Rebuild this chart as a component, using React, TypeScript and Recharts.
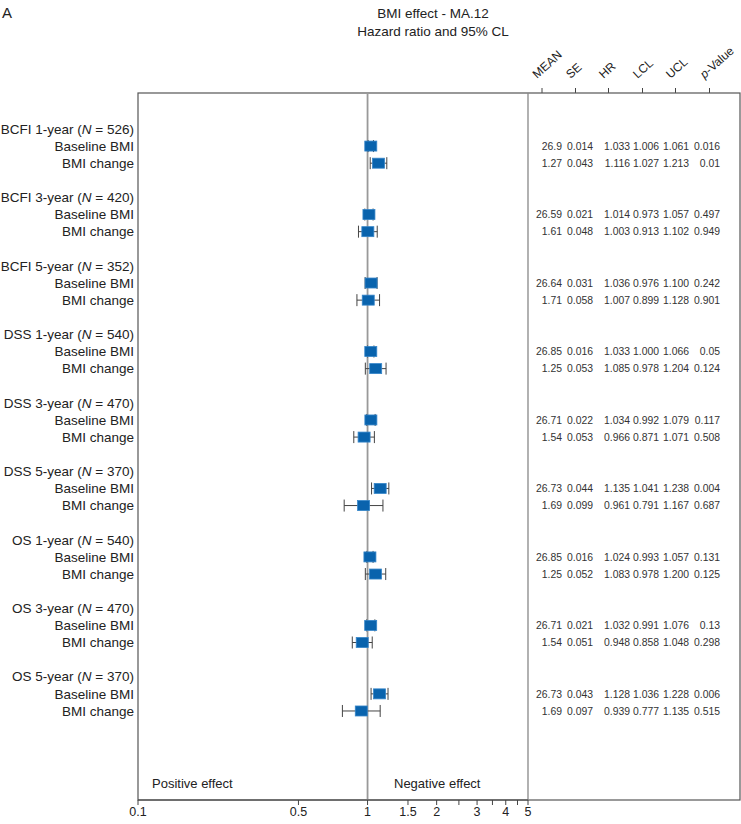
import React from 'react';
import { ComposedChart, Scatter, XAxis, YAxis, ErrorBar, ReferenceLine } from 'recharts';

if (typeof document !== 'undefined') document.body.style.margin = '0';

const groups = ['BCFI 1-year', 'BCFI 3-year', 'BCFI 5-year', 'DSS 1-year', 'DSS 3-year', 'DSS 5-year', 'OS 1-year', 'OS 3-year', 'OS 5-year'];
const groupN = [526, 420, 352, 540, 470, 370, 540, 470, 370];
const effects = ['Baseline BMI', 'BMI change'];

// two rows per group: baseline, change
const meanVals = ['26.9', '1.27', '26.59', '1.61', '26.64', '1.71', '26.85', '1.25', '26.71', '1.54', '26.73', '1.69', '26.85', '1.25', '26.71', '1.54', '26.73', '1.69'];
const seVals = [0.014, 0.043, 0.021, 0.048, 0.031, 0.058, 0.016, 0.053, 0.022, 0.053, 0.044, 0.099, 0.016, 0.052, 0.021, 0.051, 0.043, 0.097];
const hrVals = [1.033, 1.116, 1.014, 1.003, 1.036, 1.007, 1.033, 1.085, 1.034, 0.966, 1.135, 0.961, 1.024, 1.083, 1.032, 0.948, 1.128, 0.939];
const lclVals = [1.006, 1.027, 0.973, 0.913, 0.976, 0.899, 1.0, 0.978, 0.992, 0.871, 1.041, 0.791, 0.993, 0.978, 0.991, 0.858, 1.036, 0.777];
const uclVals = [1.061, 1.213, 1.057, 1.102, 1.1, 1.128, 1.066, 1.204, 1.079, 1.071, 1.238, 1.167, 1.057, 1.2, 1.076, 1.048, 1.228, 1.135];
const pVals = ['0.016', '0.01', '0.497', '0.949', '0.242', '0.901', '0.05', '0.124', '0.117', '0.508', '0.004', '0.687', '0.131', '0.125', '0.13', '0.298', '0.006', '0.515'];

const columns = ['MEAN', 'SE', 'HR', 'LCL', 'UCL', 'p-Value'];
const xTicks = [0.1, 0.5, 1, 1.5, 2, 2.5, 3, 3.5, 4, 4.5, 5];
const unlabeled = [2.5, 3.5, 4.5];

// row labels (y index -> label)
const rowLabels: Record<number, { group?: number; effect?: string }> = {};
groups.forEach((g, i) => {
  rowLabels[i * 4] = { group: i };
  rowLabels[i * 4 + 1] = { effect: effects[0] };
  rowLabels[i * 4 + 2] = { effect: effects[1] };
});
const rowTicks = Object.keys(rowLabels).map(Number);

const data = hrVals.map((hr, i) => ({
  row: Math.floor(i / 2) * 4 + 1 + (i % 2),
  hr,
  err: [hr - lclVals[i], uclVals[i] - hr],
  cells: [meanVals[i], seVals[i].toFixed(3), hr.toFixed(3), lclVals[i].toFixed(3), uclVals[i].toFixed(3), pVals[i]],
}));

const colRight = [562, 593, 630, 659, 689, 720];
const colTick = [542, 575.5, 608.5, 642.5, 675.5, 709.5];
const font = '"Liberation Sans", Arial, Helvetica, sans-serif';

function RowTick(props: any) {
  const { x, y, payload } = props;
  const lab = rowLabels[payload.value];
  if (!lab) return null;
  return (
    <text x={x} y={y} dy="0.35em" textAnchor="end" fontSize={13.5} fill="#222">
      {lab.group !== undefined ? (
        <>
          {groups[lab.group]} (<tspan fontStyle="italic">N</tspan> = {groupN[lab.group]})
        </>
      ) : (
        lab.effect
      )}
    </text>
  );
}

function Box(props: any) {
  const { cx, cy } = props;
  return <rect x={cx - 6} y={cy - 5} width={12} height={10} fill="#0963ad" stroke="#3585c9" strokeWidth={0.8} />;
}

function TableRow(props: any) {
  const { cy, payload } = props;
  return (
    <g>
      {payload.cells.map((c: string, j: number) => (
        <text key={j} x={colRight[j]} y={cy} dy="0.35em" textAnchor="end" fontSize={10.4} fill="#333">
          {c}
        </text>
      ))}
    </g>
  );
}

export default function App() {
  return (
    <div style={{ fontFamily: font }}>
      <ComposedChart width={741} height={824} margin={{ top: 93, right: 213, bottom: 0, left: 0 }} style={{ fontFamily: font }}>
        <text x={2} y={18} fontSize={15} fill="#222">A</text>
        <text x={433} y={18} fontSize={13.5} textAnchor="middle" fill="#222">BMI effect - MA.12</text>
        <text x={433} y={36} fontSize={13.5} textAnchor="middle" fill="#222">Hazard ratio and 95% CL</text>
        {columns.map((c, j) => (
          <g key={c}>
            <line x1={colTick[j]} x2={colTick[j]} y1={88} y2={93} stroke="#444" />
            <text x={colTick[j] - 5} y={79} fontSize={12} fill="#222" transform={`rotate(-42 ${colTick[j] - 5} 79)`}>
              {c === 'p-Value' ? (
                <>
                  <tspan fontStyle="italic">p</tspan>-Value
                </>
              ) : (
                c
              )}
            </text>
          </g>
        ))}
        <rect x={138} y={93} width={602} height={707} fill="none" stroke="#555" strokeWidth={1.2} />
        <text x={152} y={788} fontSize={13} fill="#222">Positive effect</text>
        <text x={394} y={788} fontSize={13} fill="#222">Negative effect</text>
        <XAxis
          type="number"
          dataKey="hr"
          scale="log"
          domain={[0.1, 5]}
          ticks={xTicks}
          interval={0}
          height={24}
          tickSize={5}
          tickMargin={2}
          axisLine={{ stroke: '#444' }}
          tickLine={{ stroke: '#444' }}
          tick={{ fill: '#222', fontSize: 12.5 }}
          tickFormatter={(v: number) => (unlabeled.includes(v) ? '' : String(v))}
        />
        <YAxis
          type="number"
          dataKey="row"
          domain={[-2.1, 39.2]}
          reversed
          ticks={rowTicks}
          interval={0}
          width={138}
          tickSize={0}
          tickMargin={4}
          axisLine={false}
          tickLine={false}
          tick={<RowTick />}
        />
        <ReferenceLine x={1} stroke="#999" strokeWidth={1.8} />
        <ReferenceLine x={5} stroke="#888" strokeWidth={1.3} />
        <Scatter data={data} shape={<Box />} isAnimationActive={false}>
          <ErrorBar dataKey="err" direction="x" width={6} stroke="#444" strokeWidth={1} />
        </Scatter>
        <Scatter data={data} shape={<TableRow />} isAnimationActive={false} />
      </ComposedChart>
    </div>
  );
}
